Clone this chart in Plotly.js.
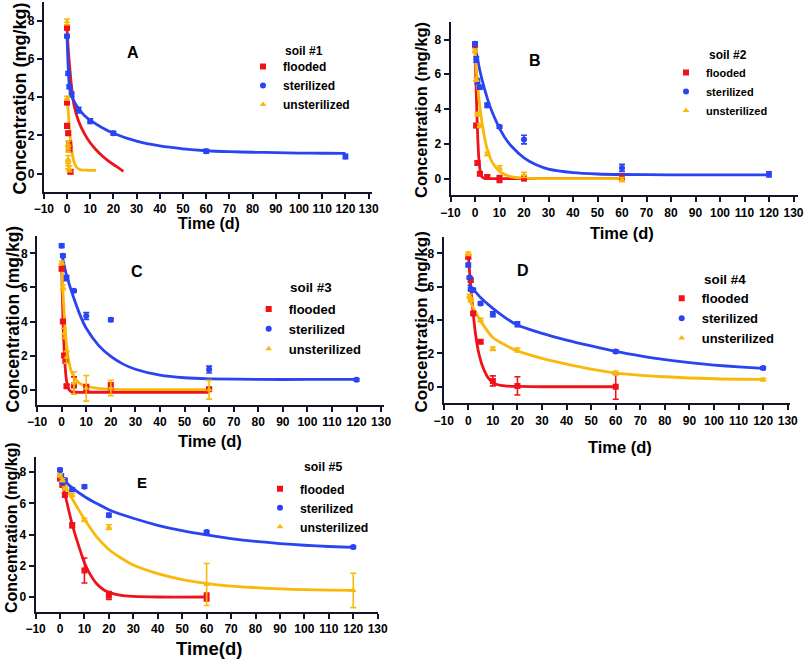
<!DOCTYPE html>
<html>
<head>
<meta charset="utf-8">
<script src="https://cdn.plot.ly/plotly-3.0.1.min.js"></script>
<style>html,body{margin:0;padding:0;background:#fff;}#chart{width:805px;height:659px;}</style>
</head>
<body>
<div id="chart"></div>
<script>
// ---------------- DATA ----------------
const seriesNames = ["flooded", "sterilized", "unsterilized"];
const xTicks = [-10, 0, 10, 20, 30, 40, 50, 60, 70, 80, 90, 100, 110, 120, 130];
const yTicks = [0, 2, 4, 6, 8];

// Panel A (soil #1)
const A_floodX = [0, 0, 0, 0.5, 1, 1, 1.5];
const A_floodY = [7.65, 3.72, 2.5, 2.12, 1.5, 1.3, 0.1];
const A_floodE = [0.12, 0.1, 0.12, 0.1, 0.2, 0.15, 0.1];
const A_sterX = [0, 0.5, 1, 2, 5, 10, 20, 60, 120];
const A_sterY = [7.2, 5.25, 4.55, 4.15, 3.33, 2.75, 2.12, 1.17, 0.9];
const A_sterE = [0.08, 0.1, 0.1, 0.12, 0.15, 0.12, 0.1, 0.1, 0.12];
const A_unX = [0, 0, 0.5, 0.5, 0.5, 0.5, 1];
const A_unY = [7.95, 3.95, 1.55, 1.3, 0.75, 0.45, 0.25];
const A_unE = [0.15, 0.1, 0.15, 0.15, 0.2, 0.2, 0.15];
const A_fitFX = [0, 0.5, 1, 2, 3, 5, 7.5, 10, 12.5, 15, 17.5, 20, 22.5, 24.3];
const A_fitFY = [7.6, 6.6, 5.8, 4.5, 3.6, 2.75, 2.1, 1.62, 1.25, 0.95, 0.7, 0.48, 0.28, 0.12];
const A_fitSX = [0, 0.5, 1, 2, 3, 5, 7.5, 10, 15, 20, 30, 40, 50, 60, 70, 80, 90, 100, 110, 120];
const A_fitSY = [7.2, 5.6, 4.6, 4.05, 3.8, 3.4, 3.05, 2.8, 2.42, 2.12, 1.7, 1.45, 1.3, 1.2, 1.15, 1.12, 1.1, 1.08, 1.07, 1.06];
const A_fitUX = [0, 0.5, 1, 1.5, 2, 2.5, 3, 4, 5, 6, 8, 10, 12.5];
const A_fitUY = [4.0, 3.3, 2.5, 1.75, 1.25, 0.9, 0.62, 0.35, 0.25, 0.2, 0.18, 0.17, 0.17];

// Panel B (soil #2)
const B_floodX = [0, 0.5, 1, 2, 5, 10, 20, 60];
const B_floodY = [7.7, 3.05, 0.9, 0.28, 0.1, -0.02, 0.03, 0.03];
const B_floodE = [0.1, 0.1, 0.1, 0.1, 0.1, 0.2, 0.15, 0.15];
const B_sterX = [0, 0.5, 1, 2, 5, 10, 20, 60, 120];
const B_sterY = [7.75, 6.85, 5.6, 5.25, 4.22, 2.98, 2.25, 0.62, 0.25];
const B_sterE = [0.1, 0.15, 0.15, 0.1, 0.12, 0.08, 0.25, 0.2, 0.15];
const B_unX = [0, 0.5, 1, 2, 5, 10, 20, 60];
const B_unY = [7.35, 5.7, 3.7, 3.05, 1.42, 0.62, 0.22, -0.05];
const B_unE = [0.1, 0.1, 0.1, 0.1, 0.1, 0.12, 0.15, 0.12];
const B_fitFX = [0, 0.5, 1, 1.5, 2, 2.5, 3, 4, 6, 10, 20, 60];
const B_fitFY = [7.7, 5.0, 2.8, 1.3, 0.55, 0.2, 0.08, 0.02, 0.0, 0.0, 0.0, 0.0];
const B_fitSX = [0, 2, 4, 6, 8, 10, 12, 15, 20, 25, 30, 40, 50, 60, 80, 100, 120];
const B_fitSY = [7.72, 6.2, 5.1, 4.2, 3.5, 2.9, 2.4, 1.85, 1.2, 0.8, 0.55, 0.35, 0.27, 0.24, 0.22, 0.22, 0.22];
const B_fitUX = [0, 1, 2, 3, 4, 5, 7, 10, 15, 20, 30, 60];
const B_fitUY = [7.4, 5.5, 4.1, 3.1, 2.3, 1.7, 0.95, 0.42, 0.1, 0.03, 0.0, 0.0];

// Panel C (soil #3)
const C_floodX = [0, 0.5, 1, 1.5, 2, 5, 10, 20, 60];
const C_floodY = [7.1, 4.0, 2.0, 1.75, 0.2, 0.25, 0.1, 0.2, 0.02];
const C_floodE = [0.1, 0.1, 0.1, 0.2, 0.1, 0.5, 0.2, 0.2, 0.1];
const C_sterX = [0, 0.5, 2, 5, 10, 20, 60, 120];
const C_sterY = [8.45, 7.85, 6.55, 5.8, 4.32, 4.1, 1.18, 0.58];
const C_sterE = [0.1, 0.1, 0.15, 0.08, 0.2, 0.1, 0.2, 0.08];
const C_unX = [0, 0.5, 1, 2, 5, 10, 20, 60];
const C_unY = [7.45, 6.0, 3.3, 1.9, 0.4, 0.08, 0.1, 0.0];
const C_unE = [0.1, 0.15, 0.3, 0.35, 0.65, 0.75, 0.45, 0.55];
const C_fitFX = [0, 0.5, 1, 1.5, 2, 3, 4, 6, 10, 20, 60];
const C_fitFY = [7.2, 4.3, 2.4, 1.2, 0.5, 0.0, -0.12, -0.15, -0.15, -0.15, -0.15];
const C_fitSX = [0, 2, 5, 8, 10, 15, 20, 25, 30, 40, 50, 60, 80, 100, 120];
const C_fitSY = [8.0, 6.7, 5.35, 4.2, 3.6, 2.6, 1.95, 1.5, 1.2, 0.85, 0.7, 0.64, 0.6, 0.6, 0.6];
const C_fitUX = [0, 0.5, 1, 1.5, 2, 3, 4, 5, 7, 10, 15, 20, 30, 60];
const C_fitUY = [7.5, 5.8, 4.5, 3.4, 2.6, 1.6, 1.05, 0.75, 0.42, 0.2, 0.08, 0.03, 0.0, 0.0];

// Panel D (soil #4)
const D_floodX = [0, 1, 2, 5, 10, 20, 60];
const D_floodY = [7.8, 6.4, 4.4, 2.7, 0.35, 0.05, 0.0];
const D_floodE = [0.1, 0.1, 0.1, 0.1, 0.3, 0.55, 0.75];
const D_sterX = [0, 0.5, 1, 2, 5, 10, 20, 60, 120];
const D_sterY = [7.3, 6.55, 5.85, 5.8, 5.0, 4.35, 3.75, 2.12, 1.12];
const D_sterE = [0.1, 0.08, 0.1, 0.1, 0.1, 0.15, 0.15, 0.1, 0.08];
const D_unX = [0, 0.5, 1, 5, 10, 20, 60, 120];
const D_unY = [7.98, 5.45, 5.2, 4.0, 2.28, 2.2, 0.82, 0.43];
const D_unE = [0.1, 0.1, 0.1, 0.1, 0.1, 0.12, 0.12, 0.08];
const D_fitFX = [0, 1, 2, 3, 4, 5, 6, 8, 10, 12, 15, 20, 30, 60];
const D_fitFY = [7.9, 6.0, 4.4, 3.1, 2.2, 1.6, 1.15, 0.55, 0.25, 0.12, 0.05, 0.02, 0.0, 0.0];
const D_fitSX = [0, 2, 5, 10, 15, 20, 30, 40, 50, 60, 70, 80, 90, 100, 110, 120];
const D_fitSY = [6.15, 5.85, 5.35, 4.7, 4.15, 3.7, 3.2, 2.8, 2.45, 2.12, 1.85, 1.62, 1.45, 1.3, 1.19, 1.1];
const D_fitUX = [0, 2, 5, 10, 15, 20, 30, 40, 50, 60, 80, 100, 120];
const D_fitUY = [5.35, 4.75, 3.95, 2.95, 2.5, 2.15, 1.7, 1.35, 1.05, 0.82, 0.6, 0.48, 0.44];

// Panel E (soil #5)
const E_floodX = [0, 1, 2, 5, 10, 20, 60];
const E_floodY = [7.6, 7.2, 6.55, 4.6, 1.7, 0.1, 0.0];
const E_floodE = [0.12, 0.12, 0.12, 0.15, 0.8, 0.25, 0.25];
const E_sterX = [0, 0.5, 1, 2, 5, 10, 20, 60, 120];
const E_sterY = [8.15, 7.8, 7.35, 7.5, 6.9, 7.08, 5.25, 4.17, 3.2];
const E_sterE = [0.1, 0.1, 0.1, 0.1, 0.1, 0.1, 0.12, 0.1, 0.08];
const E_unX = [0, 1, 2, 5, 10, 20, 60, 120];
const E_unY = [7.8, 7.5, 6.97, 6.55, 4.95, 4.48, 0.8, 0.42];
const E_unE = [0.1, 0.1, 0.1, 0.1, 0.1, 0.15, 1.35, 1.1];
const E_fitFX = [0, 1, 2, 3, 5, 7, 10, 12, 15, 18, 20, 25, 30, 40, 60];
const E_fitFY = [7.75, 7.2, 6.6, 5.95, 4.65, 3.6, 2.2, 1.55, 0.85, 0.45, 0.3, 0.1, 0.04, 0.0, 0.0];
const E_fitSX = [0, 5, 10, 15, 20, 30, 40, 50, 60, 70, 80, 90, 100, 110, 120];
const E_fitSY = [7.75, 7.0, 6.45, 6.0, 5.6, 5.05, 4.6, 4.25, 3.98, 3.75, 3.57, 3.43, 3.32, 3.24, 3.18];
const E_fitUX = [0, 2, 5, 10, 15, 20, 25, 30, 40, 50, 60, 70, 80, 90, 100, 110, 120];
const E_fitUY = [8.05, 7.2, 6.3, 5.0, 3.85, 3.05, 2.5, 2.05, 1.5, 1.12, 0.88, 0.7, 0.6, 0.52, 0.47, 0.44, 0.42];

// ---------------- STYLE ----------------
const RED = '#f0121a', BLUE = '#2a44f2', YEL = '#f9b90a';
const W = 805, H = 659;
const FONT = 'Liberation Sans, Arial, sans-serif';

const panels = [
  {id: 'A', soil: 'soil #1', xs: '', leg: 'legend',
   fl: [A_floodX, A_floodY, A_floodE], st: [A_sterX, A_sterY, A_sterE], un: [A_unX, A_unY, A_unE],
   fitF: [A_fitFX, A_fitFY], fitS: [A_fitSX, A_fitSY], fitU: [A_fitUX, A_fitUY]},
  {id: 'B', soil: 'soil #2', xs: '2', leg: 'legend2',
   fl: [B_floodX, B_floodY, B_floodE], st: [B_sterX, B_sterY, B_sterE], un: [B_unX, B_unY, B_unE],
   fitF: [B_fitFX, B_fitFY], fitS: [B_fitSX, B_fitSY], fitU: [B_fitUX, B_fitUY]},
  {id: 'C', soil: 'soil #3', xs: '3', leg: 'legend3',
   fl: [C_floodX, C_floodY, C_floodE], st: [C_sterX, C_sterY, C_sterE], un: [C_unX, C_unY, C_unE],
   fitF: [C_fitFX, C_fitFY], fitS: [C_fitSX, C_fitSY], fitU: [C_fitUX, C_fitUY]},
  {id: 'D', soil: 'soil #4', xs: '4', leg: 'legend4',
   fl: [D_floodX, D_floodY, D_floodE], st: [D_sterX, D_sterY, D_sterE], un: [D_unX, D_unY, D_unE],
   fitF: [D_fitFX, D_fitFY], fitS: [D_fitSX, D_fitSY], fitU: [D_fitUX, D_fitUY]},
  {id: 'E', soil: 'soil #5', xs: '5', leg: 'legend5',
   fl: [E_floodX, E_floodY, E_floodE], st: [E_sterX, E_sterY, E_sterE], un: [E_unX, E_unY, E_unE],
   fitF: [E_fitFX, E_fitFY], fitS: [E_fitSX, E_fitSY], fitU: [E_fitUX, E_fitUY]}
];

// geometry in pixels: [x0, x1, yTop, yBottom], ranges
const geom = {
  A: {px: [43.8, 372.1, 1.8, 191.8], xr: [-10, 131.5], yr: [-0.95, 9]},
  B: {px: [450.5, 798.4, 22.1, 195.2], xr: [-10, 132], yr: [-0.95, 9]},
  C: {px: [37.1, 383.6, 236.25, 405.05], xr: [-10, 131], yr: [-0.9, 9]},
  D: {px: [443.7, 790.2, 236.7, 403.4], xr: [-10, 131], yr: [-1, 9]},
  E: {px: [35.56, 377.7, 456.7, 611.8], xr: [-10, 130], yr: [-0.95, 9]}
};

const traces = [];
const colors = [RED, BLUE, YEL];
const symbols = ['square', 'circle', 'triangle-up'];

panels.forEach(p => {
  const xa = 'x' + p.xs, ya = 'y' + p.xs;
  [p.fitF, p.fitS, p.fitU].forEach((f, i) => {
    traces.push({x: f[0], y: f[1], xaxis: xa, yaxis: ya, type: 'scatter', mode: 'lines',
      line: {color: colors[i], width: 2.8, shape: 'spline', smoothing: 0.7},
      showlegend: false, hoverinfo: 'skip'});
  });
  [p.fl, p.st, p.un].forEach((d, i) => {
    traces.push({x: d[0], y: d[1], xaxis: xa, yaxis: ya, type: 'scatter', mode: 'markers',
      name: seriesNames[i], legend: p.leg,
      marker: {color: colors[i], symbol: symbols[i], size: 6},
      error_y: {type: 'data', array: d[2], visible: true, color: colors[i], thickness: 1.6, width: 3}});
  });
});

const layout = {
  width: W, height: H, margin: {l: 0, r: 0, t: 0, b: 0},
  paper_bgcolor: '#fff', plot_bgcolor: 'rgba(0,0,0,0)',
  font: {family: FONT, color: '#000'},
  annotations: []
};

function axX(g, anchor) {
  return {domain: [g.px[0] / W, g.px[1] / W], range: g.xr, anchor: anchor,
    showline: true, linecolor: '#15152a', linewidth: 2, ticks: 'outside', ticklen: 5, tickwidth: 2,
    tickcolor: '#15152a', showgrid: false, zeroline: false, tickmode: 'array', tickvals: xTicks,
    tickangle: 0, tickfont: {size: 12, weight: 'bold', color: '#000'}, fixedrange: true};
}
function axY(g, anchor) {
  return {domain: [1 - g.px[3] / H, 1 - g.px[2] / H], range: g.yr, anchor: anchor,
    showline: true, linecolor: '#15152a', linewidth: 2, ticks: 'outside', ticklen: 5, tickwidth: 2,
    tickcolor: '#15152a', showgrid: false, zeroline: false, tickmode: 'array', tickvals: yTicks,
    tickfont: {size: 12, weight: 'bold', color: '#000'}, fixedrange: true};
}
panels.forEach(p => {
  const g = geom[p.id];
  layout['xaxis' + p.xs] = axX(g, 'y' + p.xs);
  layout['yaxis' + p.xs] = axY(g, 'x' + p.xs);
});

function ann(text, x, y, size, extra) {
  return Object.assign({text: text, xref: 'paper', yref: 'paper', x: x / W, y: 1 - y / H,
    xanchor: 'center', yanchor: 'middle', showarrow: false,
    font: {size: size, weight: 'bold', color: '#000', family: FONT}}, extra || {});
}

// axis titles, panel letters, legend headings (text positions in px)
const yTitle = 'Concentration (mg/kg)';
const labelPos = {
  A: {yt: [19.5, 99, 18], xt: ['Time (d)', 209, 223, 16], lt: [133, 52, 16], st: [283, 50.7, 12], lg: [243, 52, 12]},
  B: {yt: [421, 110, 16.5], xt: ['Time (d)', 621.7, 232.7, 16.5], lt: [535, 60, 16], st: [706.7, 55, 12], lg: [666, 58, 11]},
  C: {yt: [12.5, 319, 17.5], xt: ['Time (d)', 210, 441, 16.5], lt: [136.7, 271.7, 16], st: [288, 287.3, 13.4], lg: [248.7, 294, 13]},
  D: {yt: [421, 322.5, 17], xt: ['Time (d)', 620, 447, 16.5], lt: [523, 270.7, 16], st: [701.7, 279, 13.4], lg: [661.7, 283.3, 13]},
  E: {yt: [11, 528, 16], xt: ['Time(d)', 209, 648, 18.5], lt: [141.7, 482.3, 15], st: [301.7, 467.3, 12.3], lg: [260, 474.3, 12.3]}
};
panels.forEach(p => {
  const L = labelPos[p.id];
  layout.annotations.push(ann(yTitle, L.yt[0], L.yt[1], L.yt[2], {textangle: -90}));
  layout.annotations.push(ann(L.xt[0], L.xt[1], L.xt[2], L.xt[3]));
  layout.annotations.push(ann(p.id, L.lt[0], L.lt[1], L.lt[2]));
  layout.annotations.push(ann(p.soil, L.st[0], L.st[1], L.st[2], {xanchor: 'left'}));
  layout[p.leg] = {x: L.lg[0] / W, y: 1 - L.lg[1] / H, xanchor: 'left', yanchor: 'top',
    bgcolor: 'rgba(0,0,0,0)', borderwidth: 0, tracegroupgap: 0,
    font: {size: L.lg[2], weight: 'bold', color: '#000', family: FONT}};
});

Plotly.newPlot('chart', traces, layout, {staticPlot: true, displayModeBar: false});
</script>
</body>
</html>
